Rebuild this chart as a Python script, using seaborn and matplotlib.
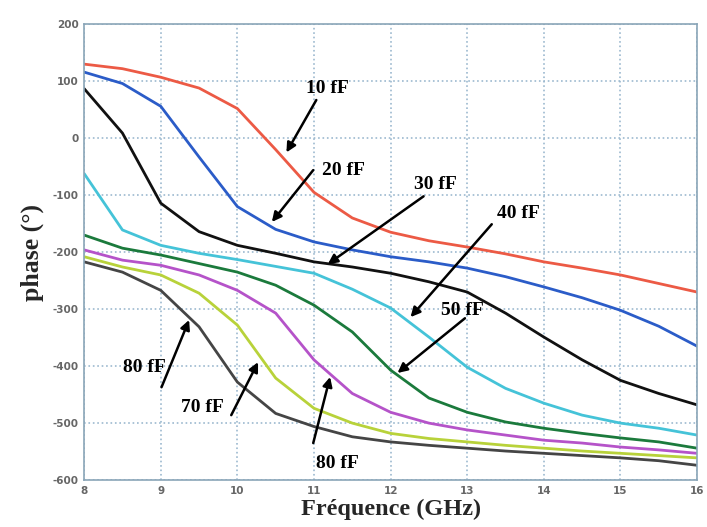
import numpy as np
import pandas as pd
import seaborn as sns
import matplotlib.pyplot as plt

freq = [8.0, 8.5, 9.0, 9.5, 10.0, 10.5, 11.0, 11.5, 12.0, 12.5, 13.0, 13.5, 14.0, 14.5, 15.0, 15.5, 16.0]

phase_10fF = [130, 122, 107, 88, 52, -20, -95, -140, -165, -180, -191, -203, -217, -228, -240, -255, -270]
phase_20fF = [116, 96, 56, -33, -120, -160, -182, -196, -208, -217, -228, -243, -261, -280, -302, -330, -365]
phase_30fF = [87, 9, -114, -164, -188, -202, -217, -226, -237, -252, -270, -307, -349, -389, -425, -448, -468]
phase_40fF = [-62, -161, -188, -202, -213, -225, -237, -265, -298, -349, -402, -439, -465, -486, -500, -509, -521]
phase_50fF = [-170, -193, -205, -220, -235, -258, -293, -340, -407, -456, -481, -498, -509, -518, -526, -533, -544]
phase_60fF = [-196, -214, -223, -240, -267, -307, -389, -448, -481, -500, -512, -521, -530, -535, -542, -547, -553]
phase_70fF = [-208, -226, -240, -272, -328, -421, -474, -500, -518, -527, -533, -539, -544, -549, -553, -557, -561]
phase_80fF = [-217, -235, -267, -331, -428, -483, -506, -524, -533, -539, -544, -549, -553, -557, -561, -566, -574]

series = {
    "10 fF": phase_10fF, "20 fF": phase_20fF, "30 fF": phase_30fF, "40 fF": phase_40fF,
    "50 fF": phase_50fF, "60 fF": phase_60fF, "70 fF": phase_70fF, "80 fF": phase_80fF,
}
colors = ["#ec5a45", "#2b5cc8", "#111111", "#45c3d8", "#1b7a3c", "#b553c9", "#b8d23a", "#454545"]

# annotations: label, text pos, arrow tail, arrow head (data coords)
labels = [
    ("10 fF", (11.18, 88), (11.03, 67), (10.64, -25)),
    ("20 fF", (11.38, -56), (10.99, -56), (10.45, -147)),
    ("30 fF", (12.58, -82), (12.43, -102), (11.18, -221)),
    ("40 fF", (13.67, -132), (13.32, -151), (12.26, -314)),
    ("50 fF", (12.93, -302), (12.97, -316), (12.09, -412)),
    ("80 fF", (8.79, -402), (9.01, -437), (9.37, -319)),
    ("70 fF", (9.54, -472), (9.92, -486), (10.27, -393)),
    ("80 fF", (11.31, -570), (10.99, -535), (11.21, -419)),
]

df = pd.DataFrame([
    {"freq": f, "phase": p, "cap": name}
    for name, vals in series.items() for f, p in zip(freq, vals)
])

sns.set_style("white")
plt.rcParams["axes.unicode_minus"] = False
fig = plt.figure(figsize=(7.07, 5.27), dpi=100)
ax = fig.add_axes([0.119, 0.089, 0.867, 0.865])

sns.lineplot(data=df, x="freq", y="phase", hue="cap", palette=colors, linewidth=2,
             legend=False, ax=ax)

ax.set_xlim(8, 16)
ax.set_ylim(-600, 200)
ax.set_xticks(range(8, 17))
ax.set_yticks(range(-600, 201, 100))
ax.grid(True, color="#9cb9cf", linestyle=":", linewidth=1.2)
for s in ax.spines.values():
    s.set_color("#8aa5b8")
    s.set_linewidth(1.2)
ax.tick_params(direction="in", length=4, color="#8aa5b8", labelsize=7.5,
               labelcolor="#666666", pad=4)
for lab in ax.get_xticklabels() + ax.get_yticklabels():
    lab.set_fontweight("bold")

ax.set_xlabel("Fréquence (GHz)", family="Liberation Serif", fontweight="bold",
              fontsize=17.5, labelpad=2)
ax.set_ylabel("phase (°)", family="Liberation Serif", fontweight="bold",
              fontsize=18.5, labelpad=6)

for text, tpos, tail, head in labels:
    ax.text(tpos[0], tpos[1], text, family="Liberation Serif", fontweight="bold",
            fontsize=14, ha="center", va="center", color="black")
    ax.annotate("", xy=head, xytext=tail,
                arrowprops=dict(arrowstyle="-|>", color="black", lw=1.8,
                                mutation_scale=14, shrinkA=0, shrinkB=0))

plt.savefig("out.png", dpi=100)
